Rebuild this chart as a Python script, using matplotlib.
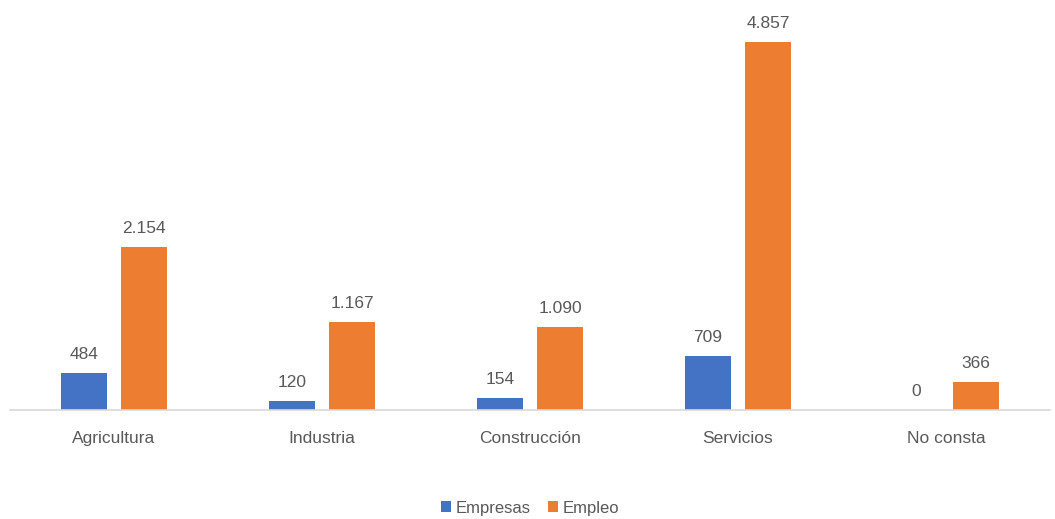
import matplotlib
matplotlib.use("Agg")
import matplotlib.pyplot as plt
import numpy as np

categories = ["Agricultura", "Industria", "Construcción", "Servicios", "No consta"]
empresas = [484, 120, 154, 709, 0]
empleo = [2154, 1167, 1090, 4857, 366]
series_names = ["Empresas", "Empleo"]

def fmt(v):
    return f"{v:,}".replace(",", ".")

plt.rcParams['font.family'] = ['Liberation Sans', 'DejaVu Sans']
fig = plt.figure(figsize=(10.55, 5.19), dpi=100)
ax = fig.add_axes([10/1055, 1 - 410/519, 1040/1055, 405/519])

x = np.arange(len(categories))
w = 0.22
off = 0.144
c1, c2 = "#4472C4", "#ED7D31"
b1 = ax.bar(x - off, empresas, w, color=c1, label=series_names[0])
b2 = ax.bar(x + off, empleo, w, color=c2, label=series_names[1])

for bars, vals in ((b1, empresas), (b2, empleo)):
    for b, v in zip(bars, vals):
        ax.annotate(fmt(v), (b.get_x() + b.get_width()/2, v), xytext=(0, 8),
                    textcoords="offset points", ha="center", va="bottom",
                    fontsize=12.5, color="#595959")

ax.set_xlim(-0.5, len(categories) - 0.5)
ax.set_ylim(0, 5350)
ax.set_xticks(x)
ax.set_xticklabels(categories, fontsize=12.5, color="#595959")
ax.tick_params(axis='x', length=0, pad=15)
ax.set_yticks([])
for s in ["top", "right", "left"]:
    ax.spines[s].set_visible(False)
ax.spines["bottom"].set_color("#D9D9D9")
ax.spines["bottom"].set_linewidth(1.2)

fig.legend(handles=[b1, b2], labels=series_names, loc="center", bbox_to_anchor=(530/1055, 1 - 508/519),
           ncol=2, frameon=False, fontsize=12, handlelength=0.6, handleheight=0.6,
           handletextpad=0.3, columnspacing=1.0, labelcolor="#595959")

fig.savefig("out.png", dpi=100)
